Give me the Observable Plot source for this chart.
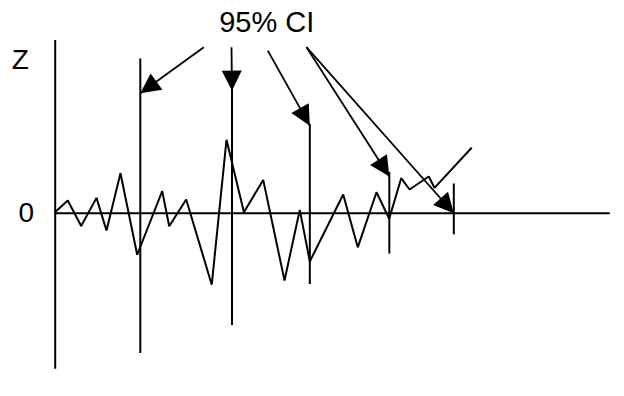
<!DOCTYPE html>
<html>
<head>
<meta charset="utf-8">
<script src="https://cdn.jsdelivr.net/npm/d3@7"></script>
<script src="https://cdn.jsdelivr.net/npm/@observablehq/plot@0.6"></script>
<style>
  html, body { margin: 0; padding: 0; background: #fff; }
  #chart svg { display: block; }
</style>
</head>
<body>
<div id="chart"></div>
<script>
// Z-statistic path over time (x in arbitrary time units 0..100)
const seriesX = [0, 2.27, 4.68, 7.44, 9.24, 11.76, 14.77, 19.28, 20.54, 23.6, 28.2, 30.86, 34.0, 37.47, 41.31, 44.06, 45.87, 51.88, 54.51, 57.88, 60.17, 62.33, 63.83, 67.3, 68.33, 74.94];
const seriesZ = [0.05, 0.53, -0.53, 0.64, -0.72, 1.67, -1.73, 0.92, -0.54, 0.57, -2.98, 3.06, 0.04, 1.39, -2.8, 0.14, -2.01, 0.78, -1.42, 0.875, -0.23, 1.46, 0.99, 1.53, 1.06, 2.71];

// 95% confidence intervals at the interim looks
const ciX = [15.33, 31.85, 45.87, 60.19, 71.81];
const ciUpper = [6.43, 5.2, 3.7, 1.7, 1.22];
const ciLower = [-5.85, -4.68, -2.97, -1.7, -0.9];

// Annotation arrows from the "95% CI" label to each interval
const arrowX1 = [26.77, 31.76, 38.3, 45.27, 45.27];
const arrowY1 = [6.92, 6.92, 6.78, 6.92, 6.92];
const arrowX2 = [15.33, 31.85, 45.87, 60.19, 71.81];
const arrowY2 = [5.0, 5.11, 3.65, 1.53, 0];

const labelText = "95% CI";
const labelX = 38.1;
const labelY = 7.95;

const axisXMax = 100;
const axisYMin = -6.5;
const axisYMax = 7.2;
const zLabelY = 6.4;

// scale geometry
const xDomain = [0, axisXMax], xRange = [54.7, 609.8];
const yDomain = [axisYMin, axisYMax], yRange = [368.7, 40];
const kx = (xRange[1] - xRange[0]) / (xDomain[1] - xDomain[0]);
const ky = (yRange[0] - yRange[1]) / (yDomain[1] - yDomain[0]);

const series = seriesX.map((x, i) => ({x, z: seriesZ[i]}));
const cis = ciX.map((x, i) => ({x, lo: ciLower[i], hi: ciUpper[i]}));
const arrows = arrowX1.map((x1, i) => {
  const x2 = arrowX2[i], y1 = arrowY1[i], y2 = arrowY2[i];
  const dx = (x2 - x1) * kx, dy = -(y2 - y1) * ky;
  return {x1, y1, x2, y2, angle: Math.atan2(dx, -dy) * 180 / Math.PI};
});

// filled triangular arrowhead, tip at origin, pointing up
const arrowhead = {
  draw(context) {
    context.moveTo(0, 0);
    context.lineTo(10, 20);
    context.lineTo(-10, 20);
    context.closePath();
  }
};

const chart = Plot.plot({
  width: 624,
  height: 396,
  marginTop: 0, marginRight: 0, marginBottom: 0, marginLeft: 0,
  x: {domain: xDomain, range: xRange, axis: null},
  y: {domain: yDomain, range: yRange, axis: null},
  style: {fontFamily: "'Liberation Sans', Arial, sans-serif", background: "#fff", color: "#000"},
  marks: [
    // axes
    Plot.ruleX([0], {y1: axisYMin, y2: axisYMax, stroke: "#000", strokeWidth: 2}),
    Plot.ruleY([0], {x1: 0, x2: axisXMax, stroke: "#000", strokeWidth: 2}),
    // zigzag path
    Plot.line(series, {x: "x", y: "z", stroke: "#000", strokeWidth: 2, strokeLinejoin: "miter"}),
    // confidence intervals
    Plot.ruleX(cis, {x: "x", y1: "lo", y2: "hi", stroke: "#000", strokeWidth: 2}),
    // arrows
    Plot.link(arrows, {x1: "x1", y1: "y1", x2: "x2", y2: "y2", stroke: "#000", strokeWidth: 1.8}),
    Plot.dot(arrows, {x: "x2", y: "y2", rotate: "angle", symbol: arrowhead, fill: "#000", stroke: "none"}),
    // labels
    Plot.text([labelText], {x: labelX, y: labelY, text: d => d, fontSize: 29, fill: "#000", textAnchor: "middle"}),
    Plot.text(["Z"], {x: 0, y: zLabelY, text: d => d, fontSize: 28, fill: "#000", dx: -35, textAnchor: "middle"}),
    Plot.text(["0"], {x: 0, y: 0, text: d => d, fontSize: 28, fill: "#000", dx: -29, textAnchor: "middle"})
  ]
});

document.getElementById("chart").appendChild(chart);
</script>
</body>
</html>
